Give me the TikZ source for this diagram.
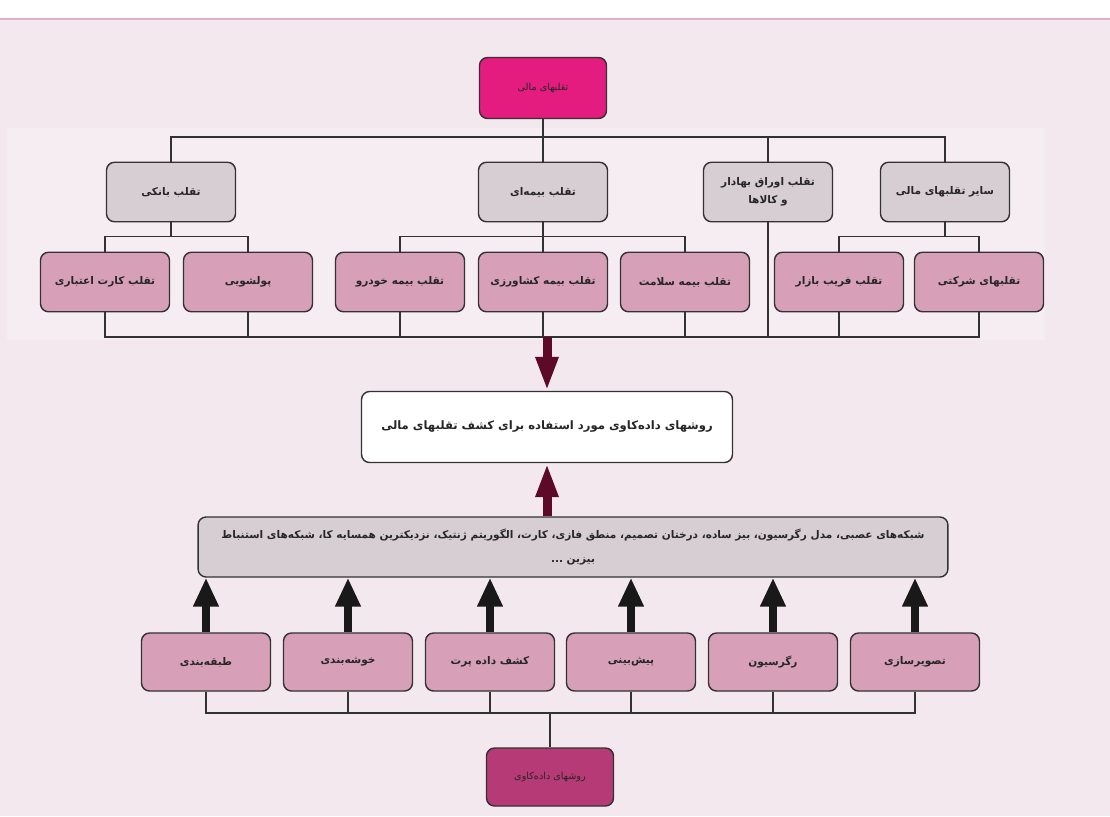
\documentclass[tikz,border=0pt]{standalone}
\usepackage{fontspec}
\newfontfamily\fa[Script=Arabic]{DejaVu Sans}
\TeXXeTstate=1
\usetikzlibrary{arrows.meta}
\definecolor{bgpink}{RGB}{244,232,239}
\definecolor{panel}{RGB}{246,237,242}
\definecolor{boxgray}{RGB}{214,206,211}
\definecolor{boxpink}{RGB}{215,160,184}
\definecolor{hotpink}{RGB}{228,28,128}
\definecolor{rose}{RGB}{182,58,118}
\definecolor{maroon}{RGB}{92,10,40}
\definecolor{linegray}{RGB}{50,50,50}
\tikzset{
  box/.style={draw=linegray, line width=0.8pt, rounded corners=0.16cm,
    minimum width=2.58cm, minimum height=1.19cm, align=center, inner sep=2pt,
    font=\fa\bfseries\fontsize{6}{10}\selectfont, text=black!85},
  graybox/.style={box, fill=boxgray},
  pinkbox/.style={box, fill=boxpink},
  link/.style={draw=linegray, line width=0.8pt},
  darkarrow/.style={draw=maroon, line width=0.18cm, -{Triangle[length=0.68cm,width=0.42cm]}},
  blackarrow/.style={draw=black!90, line width=0.16cm, -{Triangle[length=0.58cm,width=0.48cm]}}
}
\begin{document}
\begin{tikzpicture}[x=0.02cm,y=-0.02cm]
\useasboundingbox (0,0) rectangle (1110,816);
\fill[bgpink] (0,0) rectangle (1110,816);
\fill[white] (0,0) rectangle (1110,18);
\draw[rose!40, line width=1pt] (0,19) -- (1110,19);
\fill[panel] (7,128) rectangle (1045,340);

\node[box, fill=hotpink, minimum width=2.54cm, minimum height=1.22cm, font=\fa\fontsize{5.5}{7}\selectfont] (top) at (543,88) {\beginR تقلبهای مالی\endR};

\node[graybox] (bank) at (171,192) {\beginR تقلب بانکی\endR};
\node[graybox] (ins) at (543,192) {\beginR تقلب بیمه‌ای\endR};
\node[graybox] (sec) at (768,192) {\beginR تقلب اوراق بهادار\endR\\\beginR و کالاها\endR};
\node[graybox] (other) at (945,192) {\beginR سایر تقلبهای مالی\endR};

\node[pinkbox] (card) at (105,282) {\beginR تقلب کارت اعتباری\endR};
\node[pinkbox] (laund) at (248,282) {\beginR پولشویی\endR};
\node[pinkbox] (auto) at (400,282) {\beginR تقلب بیمه خودرو\endR};
\node[pinkbox] (agri) at (543,282) {\beginR تقلب بیمه کشاورزی\endR};
\node[pinkbox] (health) at (685,282) {\beginR تقلب بیمه سلامت\endR};
\node[pinkbox] (market) at (839,282) {\beginR تقلب فریب بازار\endR};
\node[pinkbox] (corp) at (979,282) {\beginR تقلبهای شرکتی\endR};

\node[box, fill=white, minimum width=7.42cm, minimum height=1.42cm, font=\fa\bfseries\fontsize{6.6}{11}\selectfont] (mid) at (547,427) {\beginR روشهای داده‌کاوی مورد استفاده برای کشف تقلبهای مالی\endR};

\node[graybox, minimum width=15cm, minimum height=1.2cm, font=\fa\bfseries\fontsize{6}{14}\selectfont] (algs) at (573,547) {\beginR شبکه‌های عصبی، مدل رگرسیون، بیز ساده، درختان تصمیم، منطق فازی، کارت، الگوریتم ژنتیک، نزدیکترین همسایه کا، شبکه‌های استنباط\endR\\\beginR بیزین ...\endR};

\node[pinkbox, minimum height=1.16cm] (cls) at (206,662) {\beginR طبقه‌بندی\endR};
\node[pinkbox, minimum height=1.16cm] (clu) at (348,662) {\beginR خوشه‌بندی\endR};
\node[pinkbox, minimum height=1.16cm] (out) at (490,662) {\beginR کشف داده پرت\endR};
\node[pinkbox, minimum height=1.16cm] (pred) at (631,662) {\beginR پیش‌بینی\endR};
\node[pinkbox, minimum height=1.16cm] (reg) at (773,662) {\beginR رگرسیون\endR};
\node[pinkbox, minimum height=1.16cm] (vis) at (915,662) {\beginR تصویرسازی\endR};

\node[box, fill=rose, minimum width=2.54cm, minimum height=1.16cm, font=\fa\fontsize{5.5}{7}\selectfont] (dm) at (550,777) {\beginR روشهای داده‌کاوی\endR};

\coordinate (bus1) at (543,137);
\coordinate (bus2) at (543,337);
\coordinate (bus3) at (550,713);

\draw[link] (top.south) -- (bus1);
\draw[link] (bank.north) |- (bus1) -| (other.north);
\draw[link] (ins.north) -- (ins.north |- bus1);
\draw[link] (sec.north) -- (sec.north |- bus1);

\draw[link] (bank.south) -- ++(0,14) coordinate (b1);
\draw[link] (card.north) |- (b1) -| (laund.north);
\draw[link] (ins.south) -- ++(0,14) coordinate (b2);
\draw[link] (auto.north) |- (b2) -| (health.north);
\draw[link] (agri.north) -- (b2);
\draw[link] (other.south) -- ++(0,14) coordinate (b3);
\draw[link] (market.north) |- (b3) -| (corp.north);

\draw[link] (card.south) |- (bus2) -| (corp.south);
\foreach \n in {laund,auto,agri,health,market,sec}
  \draw[link] (\n.south) -- (\n.south |- bus2);

\draw[darkarrow] (mid.north |- bus2) -- (mid.north);
\draw[darkarrow] (algs.north -| mid.south) -- (mid.south);

\foreach \n in {cls,clu,out,pred,reg,vis}
  \draw[blackarrow] (\n.north) -- (\n.north |- algs.south);

\draw[link] (cls.south) |- (bus3) -| (vis.south);
\foreach \n in {clu,out,pred,reg}
  \draw[link] (\n.south) -- (\n.south |- bus3);
\draw[link] (dm.north) -- (bus3);
\end{tikzpicture}
\end{document}
